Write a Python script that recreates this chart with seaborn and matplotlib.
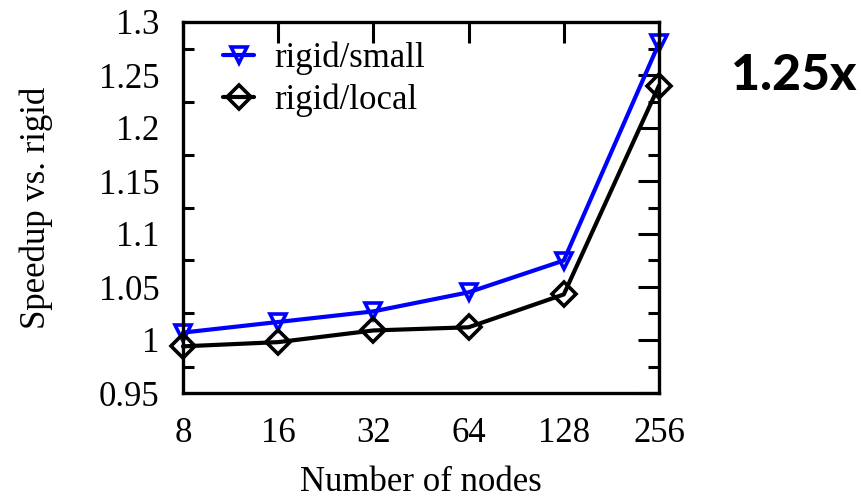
import matplotlib
matplotlib.use("Agg")
import matplotlib.pyplot as plt
import seaborn as sns
import pandas as pd
from matplotlib.ticker import MultipleLocator, FixedLocator

nodes = [8, 16, 32, 64, 128, 256]
rigid_small = [1.007, 1.017, 1.027, 1.045, 1.075, 1.280]
rigid_local = [0.994, 0.998, 1.009, 1.012, 1.043, 1.240]
series_names = ["rigid/small", "rigid/local"]
y_ticks = [0.95, 1.0, 1.05, 1.1, 1.15, 1.2, 1.25, 1.3]
y_tick_labels = ["0.95", "1", "1.05", "1.1", "1.15", "1.2", "1.25", "1.3"]
annotation = "1.25x"

df = pd.DataFrame({
    "nodes": nodes * 2,
    "speedup": rigid_small + rigid_local,
    "series": [series_names[0]] * len(nodes) + [series_names[1]] * len(nodes),
})

sns.set_style("white")
plt.rcParams["font.family"] = ["Liberation Serif", "DejaVu Serif"]
plt.rcParams["text.color"] = "black"
plt.rcParams["axes.labelcolor"] = "black"
plt.rcParams["xtick.color"] = "black"
plt.rcParams["ytick.color"] = "black"

fig, ax = plt.subplots(figsize=(8.61, 5.0), dpi=100)
fig.subplots_adjust(left=0.2125, right=0.7654, top=0.956, bottom=0.214)

sns.lineplot(data=df, x="nodes", y="speedup", hue="series", style="series",
             palette={"rigid/small": "#0000ff", "rigid/local": "#000000"},
             markers={"rigid/small": "v", "rigid/local": "D"},
             dashes=False, linewidth=3, markersize=12,
             markerfacecolor="none", markeredgewidth=2.6, ax=ax, clip_on=False)
for line in ax.lines:
    line.set_markeredgecolor(line.get_color())
    line.set_markerfacecolor("none")
    line.set_clip_on(False)

ax.set_xscale("log", base=2)
ax.set_xlim(8, 256)
ax.set_ylim(0.95, 1.3)
ax.xaxis.set_major_locator(FixedLocator(nodes))
ax.xaxis.set_minor_locator(FixedLocator([]))
ax.set_xticklabels([str(n) for n in nodes])
ax.yaxis.set_major_locator(FixedLocator(y_ticks))
ax.set_yticklabels(y_tick_labels)
ax.yaxis.set_minor_locator(MultipleLocator(0.025))

ax.tick_params(axis="both", which="major", direction="in", length=15, width=2.2,
               top=True, right=True, labelsize=25, colors="black")
ax.tick_params(axis="y", which="minor", direction="in", length=8, width=2.2,
               left=True, right=True)
ax.tick_params(axis="y", which="major", pad=17)
ax.tick_params(axis="x", which="major", pad=17)
for s in ax.spines.values():
    s.set_linewidth(2.4)
    s.set_color("black")
    s.set_visible(True)

ax.set_xlabel("Number of nodes", fontsize=25, labelpad=12)
ax.set_ylabel("Speedup vs. rigid", fontsize=25, labelpad=33)

handles, labels = ax.get_legend_handles_labels()
for h in handles:
    h.set_markerfacecolor("none")
    h.set_markeredgecolor(h.get_color())
    h.set_linewidth(3)
    h.set_markeredgewidth(2.6)
leg = ax.legend(handles, labels, loc="upper left", bbox_to_anchor=(0.055, 0.985),
                frameon=False, fontsize=25, handlelength=0.9, handletextpad=0.58,
                labelspacing=0.25, borderaxespad=0)

fig.text(0.922, 0.85, annotation, fontsize=36, fontweight="black",
         family=["Lato", "DejaVu Sans"], ha="center", va="center", color="black")

fig.savefig("out.png", dpi=100)
